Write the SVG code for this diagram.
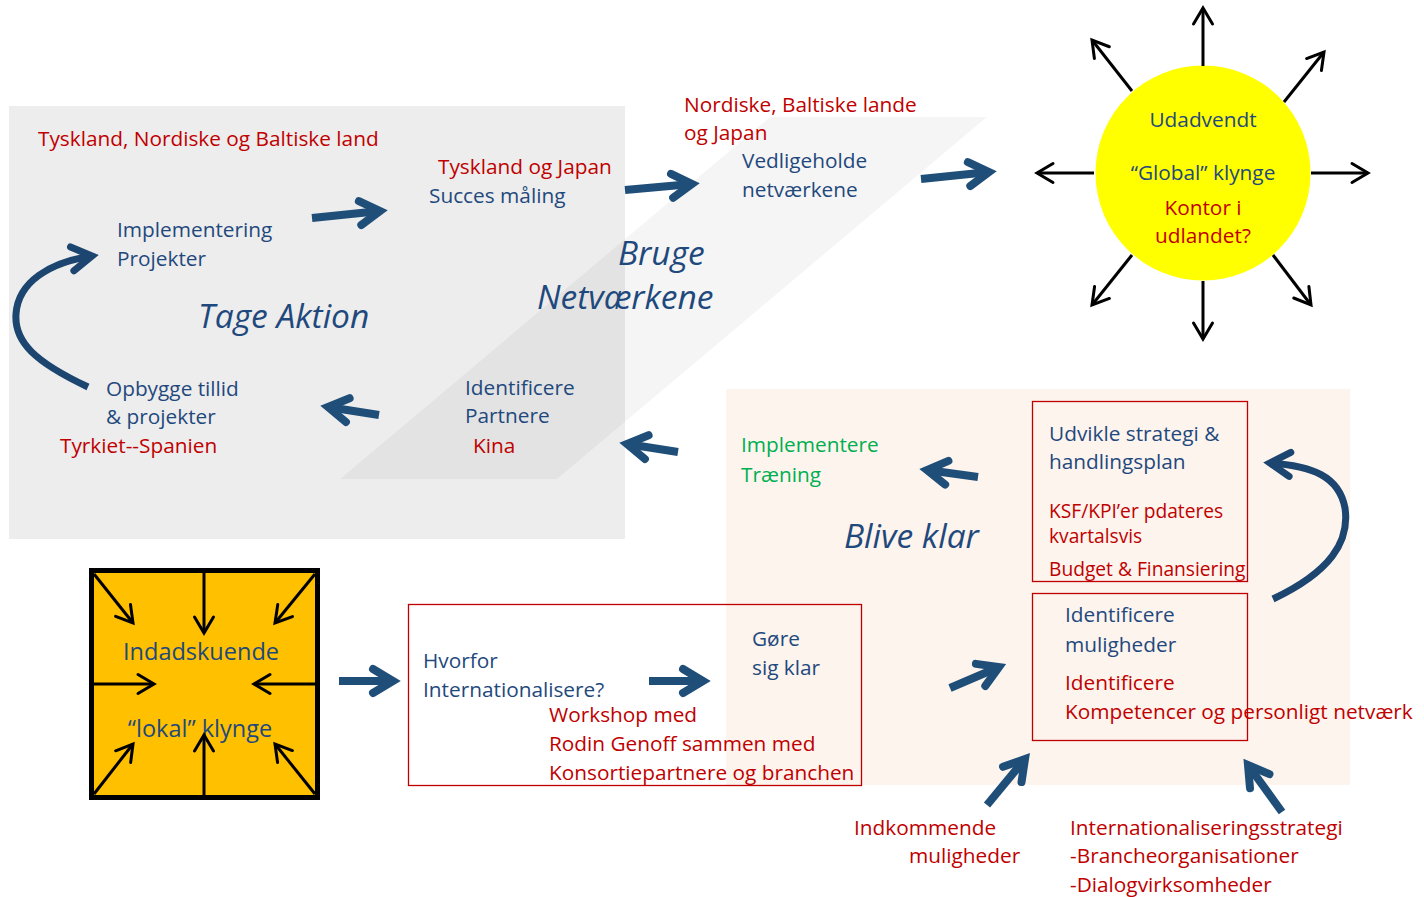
<svg xmlns="http://www.w3.org/2000/svg" width="1424" height="897" viewBox="0 0 1424 897">
<style>
text{font-family:"Open Sans","Noto Sans","Liberation Sans",sans-serif;font-size:20.8px;fill:#1f497d}
.r{fill:#c00000}
.g{fill:#00b050}
.it{font-style:italic;font-size:33.5px}
.sm{font-size:19.2px}
.mid{text-anchor:middle}
.box{fill:none;stroke:#c00000;stroke-width:1.3}
.blue{fill:none;stroke:#1f4e79;stroke-width:8;stroke-linecap:butt}
.curve{fill:none;stroke:#1c4570;stroke-width:7}
.blk{fill:none;stroke:#000;stroke-width:3}
</style>
<defs>
<marker id="bh" markerUnits="userSpaceOnUse" viewBox="-30 -20 40 40" markerWidth="40" markerHeight="40" refX="0" refY="0" orient="auto" overflow="visible">
<path d="M-20,-12 L0,0 L-20,12" fill="none" stroke="#1f4e79" stroke-width="8" stroke-linecap="round" stroke-linejoin="miter"/>
</marker>
<marker id="ch" markerUnits="userSpaceOnUse" viewBox="-30 -20 40 40" markerWidth="40" markerHeight="40" refX="0" refY="0" orient="auto" overflow="visible">
<path d="M-20,-12 L0,0 L-20,12" fill="none" stroke="#1c4570" stroke-width="7" stroke-linecap="round" stroke-linejoin="miter"/>
</marker>
<marker id="kh" markerUnits="userSpaceOnUse" viewBox="-20 -12 24 24" markerWidth="24" markerHeight="24" refX="0" refY="0" orient="auto" overflow="visible">
<path d="M-16,-9.5 L0,0 L-16,9.5" fill="none" stroke="#000" stroke-width="3" stroke-linecap="round" stroke-linejoin="miter"/>
</marker>
</defs>

<g id="tage-aktion">
<rect x="9" y="106" width="616" height="433" fill="#ededed"/>
</g>
<g id="bruge-netvaerkene">
<polygon points="340,479 557,479 987,117 770,117" fill="#000" fill-opacity="0.04"/>
</g>
<g id="blive-klar">
<rect x="726" y="389" width="624" height="396" fill="#fdf4ee"/>
</g>

<g id="title-tage"><text class="it" x="198" y="328">Tage Aktion</text></g>
<g id="title-bruge"><text class="it" x="618" y="265">Bruge</text><text class="it" x="537" y="309">Netværkene</text></g>
<g id="title-blive"><text class="it" x="844" y="548">Blive klar</text></g>

<g id="n-tyskland-nordiske"><text class="r" x="38" y="146">Tyskland, Nordiske og Baltiske land</text></g>
<g id="n-implementering"><text x="117" y="237">Implementering</text><text x="117" y="266">Projekter</text></g>
<g id="n-opbygge"><text x="106" y="396">Opbygge tillid</text><text x="106" y="424">&amp; projekter</text><text class="r" x="60" y="453">Tyrkiet--Spanien</text></g>
<g id="n-succes"><text class="r" x="438" y="174">Tyskland og Japan</text><text x="429" y="203">Succes måling</text></g>
<g id="n-identificere-partnere"><text x="465" y="395">Identificere</text><text x="465" y="423">Partnere</text><text class="r" x="473" y="453">Kina</text></g>
<g id="n-vedligeholde"><text class="r" x="684" y="112">Nordiske, Baltiske lande</text><text class="r" x="684" y="140">og Japan</text><text x="742" y="168">Vedligeholde</text><text x="742" y="197">netværkene</text></g>

<g id="n-global">
<circle cx="1203" cy="173" r="107.5" fill="#ffff00"/>
<text class="mid" x="1203" y="127">Udadvendt</text>
<text class="mid" x="1203" y="180">“Global” klynge</text>
<text class="r mid" x="1203" y="215">Kontor i</text>
<text class="r mid" x="1203" y="243">udlandet?</text>
<line class="blk" x1="1203" y1="66" x2="1203" y2="8" marker-end="url(#kh)"/>
<line class="blk" x1="1203" y1="281" x2="1203" y2="339" marker-end="url(#kh)"/>
<line class="blk" x1="1094" y1="173" x2="1037" y2="173" marker-end="url(#kh)"/>
<line class="blk" x1="1311" y1="173" x2="1368" y2="173" marker-end="url(#kh)"/>
<line class="blk" x1="1132" y1="91" x2="1092" y2="40" marker-end="url(#kh)"/>
<line class="blk" x1="1284" y1="102" x2="1324" y2="52" marker-end="url(#kh)"/>
<line class="blk" x1="1132" y1="255" x2="1092" y2="305" marker-end="url(#kh)"/>
<line class="blk" x1="1273" y1="255" x2="1311" y2="305" marker-end="url(#kh)"/>
</g>

<g id="n-lokal">
<rect x="91.5" y="570.5" width="226" height="227" fill="#ffc000" stroke="#000" stroke-width="5"/>
<text class="mid" style="font-size:23.5px" x="201" y="660">Indadskuende</text>
<text class="mid" style="font-size:23.5px" x="200" y="737">“lokal” klynge</text>
<line class="blk" x1="204" y1="572" x2="204" y2="633" marker-end="url(#kh)"/>
<line class="blk" x1="94" y1="574" x2="133" y2="623" marker-end="url(#kh)"/>
<line class="blk" x1="315" y1="574" x2="275" y2="623" marker-end="url(#kh)"/>
<line class="blk" x1="93" y1="684" x2="154" y2="684" marker-end="url(#kh)"/>
<line class="blk" x1="316" y1="684" x2="254" y2="684" marker-end="url(#kh)"/>
<line class="blk" x1="94" y1="794" x2="133" y2="744" marker-end="url(#kh)"/>
<line class="blk" x1="204" y1="796" x2="204" y2="735" marker-end="url(#kh)"/>
<line class="blk" x1="315" y1="794" x2="275" y2="744" marker-end="url(#kh)"/>
</g>

<g id="n-hvorfor">
<rect class="box" x="408.5" y="604.5" width="453" height="181"/>
<text x="423" y="668">Hvorfor</text>
<text x="423" y="697">Internationalisere?</text>
<text x="752" y="646">Gøre</text>
<text x="752" y="675">sig klar</text>
<text class="r" x="549" y="722">Workshop med</text>
<text class="r" x="549" y="751">Rodin Genoff sammen med</text>
<text class="r" x="549" y="780">Konsortiepartnere og branchen</text>
</g>

<g id="n-implementere"><text class="g" x="741" y="452">Implementere</text><text class="g" x="741" y="482">Træning</text></g>

<g id="n-udvikle">
<rect class="box" x="1032.5" y="401.5" width="215" height="180"/>
<text x="1049" y="441">Udvikle strategi &amp;</text>
<text x="1049" y="469">handlingsplan</text>
<text class="r sm" x="1049" y="518">KSF/KPI’er pdateres</text>
<text class="r sm" x="1049" y="543">kvartalsvis</text>
<text class="r sm" x="1049" y="576">Budget &amp; Finansiering</text>
</g>

<g id="n-identificere-muligheder">
<text x="1065" y="622">Identificere</text>
<text x="1065" y="652">muligheder</text>
<text class="r" x="1065" y="690">Identificere</text>
<text class="r" x="1065" y="719">Kompetencer og personligt netværk</text>
<rect class="box" x="1032.5" y="593.5" width="215" height="147"/>
</g>

<g id="n-indkommende"><text class="r" x="854" y="835">Indkommende</text><text class="r" x="909" y="863">muligheder</text></g>
<g id="n-strategi"><text class="r" x="1070" y="835">Internationaliseringsstrategi</text><text class="r" x="1070" y="863">-Brancheorganisationer</text><text class="r" x="1070" y="892">-Dialogvirksomheder</text></g>

<g id="connectors">
<line class="blue" x1="312" y1="218" x2="380" y2="211" marker-end="url(#bh)"/>
<line class="blue" x1="625" y1="190" x2="692" y2="184" marker-end="url(#bh)"/>
<line class="blue" x1="921" y1="179" x2="989" y2="172" marker-end="url(#bh)"/>
<line class="blue" x1="678" y1="452" x2="627" y2="444" marker-end="url(#bh)"/>
<line class="blue" x1="379" y1="415" x2="328" y2="407" marker-end="url(#bh)"/>
<line class="blue" x1="978" y1="477" x2="927" y2="470" marker-end="url(#bh)"/>
<line class="blue" x1="649" y1="681" x2="703" y2="681" marker-end="url(#bh)"/>
<line class="blue" x1="339" y1="681" x2="393" y2="681" marker-end="url(#bh)"/>
<line class="blue" x1="950" y1="688" x2="999" y2="667" marker-end="url(#bh)"/>
<line class="blue" x1="987" y1="805" x2="1025" y2="759" marker-end="url(#bh)"/>
<line class="blue" x1="1282" y1="812" x2="1248" y2="765" marker-end="url(#bh)"/>
<path class="curve" d="M88,387 C35,362 14,342 16,314 C18,282 50,262 92,256" marker-end="url(#ch)"/>
<path class="curve" d="M1273,599 C1330,572 1350,542 1345,508 C1339,476 1312,466 1270,463" marker-end="url(#ch)"/>
</g>
</svg>
